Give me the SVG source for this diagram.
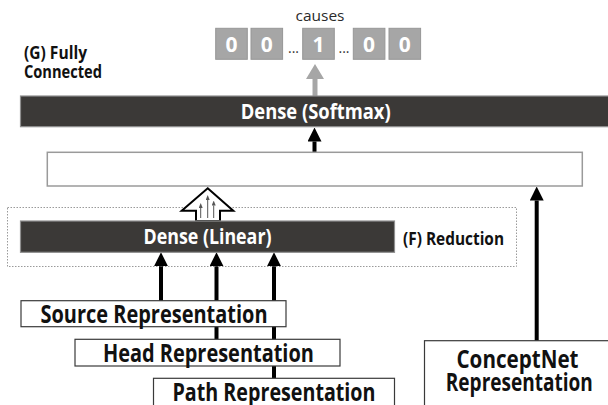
<svg xmlns="http://www.w3.org/2000/svg" width="608" height="405" viewBox="0 0 608 405">
<style>
  .bar { fill: #3b3937; stroke: #8f8f8f; stroke-width: 1.2; }
  .bartxt { font-family: "Open Sans", "Liberation Sans", sans-serif; font-weight: 700; font-size: 22px; fill: #ffffff; text-anchor: middle; }
  .lbl { font-family: "Open Sans", "Liberation Sans", sans-serif; font-weight: 700; font-size: 17.5px; fill: #111111; }
  .rep { fill: #ffffff; stroke: #3a3a3a; stroke-width: 1.2; }
  .reptxt { font-family: "Open Sans", "Liberation Sans", sans-serif; font-weight: 700; font-size: 24.5px; fill: #111111; text-anchor: middle; }
  .cell { fill: #a6a6a6; stroke: #969696; stroke-width: 1; }
  .digit { font-family: "Open Sans", "Liberation Sans", sans-serif; font-weight: 700; font-size: 21px; fill: #ffffff; text-anchor: middle; }
  .dots { font-family: "Open Sans", "Liberation Sans", sans-serif; font-size: 14px; fill: #333333; text-anchor: middle; }
  .conn { stroke: #000000; stroke-width: 4; fill: none; marker-end: url(#ah); }
  .thin { stroke: #555555; stroke-width: 1; fill: none; marker-end: url(#ahs); }
</style>
<defs>
  <marker id="ah" viewBox="0 0 14 14" markerWidth="14" markerHeight="14" refX="0" refY="7" orient="auto" markerUnits="userSpaceOnUse">
    <path d="M0,0 L14,7 L0,14 z" fill="#000000"/>
  </marker>
  <marker id="ahg" viewBox="0 0 15 18" markerWidth="15" markerHeight="18" refX="0" refY="9" orient="auto" markerUnits="userSpaceOnUse">
    <path d="M0,0 L15,9 L0,18 z" fill="#a6a6a6"/>
  </marker>
  <marker id="ahs" viewBox="0 0 5 4" markerWidth="5" markerHeight="4" refX="0" refY="2" orient="auto" markerUnits="userSpaceOnUse">
    <path d="M0,0 L5,2 L0,4 z" fill="#555555"/>
  </marker>
</defs>
<rect width="608" height="405" fill="#ffffff"/>

<g id="output">
  <text x="320" y="20.5" font-family="'Open Sans', 'Liberation Sans', sans-serif" font-weight="400" font-size="15" fill="#2a2a2a" text-anchor="middle" textLength="49" lengthAdjust="spacingAndGlyphs">causes</text>
  <rect class="cell" x="215.7" y="28.3" width="31.6" height="31"/>
  <rect class="cell" x="251" y="28.3" width="31.6" height="31"/>
  <rect class="cell" x="302.7" y="28.3" width="31.6" height="31"/>
  <rect class="cell" x="353.3" y="28.3" width="31.6" height="31"/>
  <rect class="cell" x="389" y="28.3" width="31.6" height="31"/>
  <text class="digit" x="231.5" y="51.5">0</text>
  <text class="digit" x="266.8" y="51.5">0</text>
  <text class="dots" x="293.5" y="53">...</text>
  <text class="digit" x="318.5" y="51.5">1</text>
  <text class="dots" x="344" y="53">...</text>
  <text class="digit" x="369.1" y="51.5">0</text>
  <text class="digit" x="404.8" y="51.5">0</text>
</g>

<g id="label-g">
  <text class="lbl" x="24" y="59" textLength="63" lengthAdjust="spacingAndGlyphs">(G) Fully</text>
  <text class="lbl" x="24" y="78" textLength="78" lengthAdjust="spacingAndGlyphs">Connected</text>
</g>

<g id="reduction-frame">
  <rect x="7.5" y="207.5" width="509" height="59" fill="none" stroke="#9a9a9a" stroke-width="1" stroke-dasharray="1.5 1.5"/>
</g>

<g id="connectors">
  <line x1="315" y1="96" x2="315" y2="79" stroke="#a6a6a6" stroke-width="5" marker-end="url(#ahg)"/>
  <line class="conn" x1="314.5" y1="152" x2="314.5" y2="141.5"/>
  <line class="conn" x1="536.7" y1="341" x2="536.7" y2="200.5"/>
  <line class="conn" x1="161" y1="301" x2="161" y2="266.3"/>
  <line class="conn" x1="216.5" y1="339.5" x2="216.5" y2="266.3"/>
  <line class="conn" x1="274" y1="378.5" x2="274" y2="266.3"/>
  <polygon points="207.7,188.3 233.3,210.7 220,210.7 220,221 196,221 196,210.7 181.7,210.7" fill="#ffffff" stroke="#000000" stroke-width="2" stroke-linejoin="miter"/>
  <line class="thin" x1="200.7" y1="218" x2="200.7" y2="208"/>
  <line class="thin" x1="207.7" y1="218" x2="207.7" y2="200"/>
  <line class="thin" x1="213.7" y1="218" x2="213.7" y2="205.5"/>
</g>

<g id="dense-softmax">
  <rect class="bar" x="20.5" y="96" width="600" height="30.7"/>
  <text class="bartxt" x="315.7" y="118.5" textLength="150" lengthAdjust="spacingAndGlyphs">Dense (Softmax)</text>
</g>

<g id="concat">
  <rect x="47.3" y="152.3" width="535" height="33.7" fill="#ffffff" stroke="#9a9a9a" stroke-width="1.5"/>
</g>

<g id="dense-linear">
  <rect class="bar" x="20.5" y="221" width="374" height="31.3"/>
  <text class="bartxt" x="207.5" y="244" textLength="128" lengthAdjust="spacingAndGlyphs">Dense (Linear)</text>
</g>

<g id="label-f">
  <text class="lbl" x="403" y="244.5" textLength="101" lengthAdjust="spacingAndGlyphs">(F) Reduction</text>
</g>

<g id="source">
  <rect class="rep" x="21" y="300.7" width="265" height="26"/>
  <text class="reptxt" x="154" y="322.5" textLength="227" lengthAdjust="spacingAndGlyphs">Source Representation</text>
</g>

<g id="head">
  <rect class="rep" x="75" y="339.3" width="265" height="26.7"/>
  <text class="reptxt" x="208.4" y="362" textLength="211" lengthAdjust="spacingAndGlyphs">Head Representation</text>
</g>

<g id="path">
  <rect class="rep" x="153.5" y="378.3" width="241" height="40"/>
  <text class="reptxt" x="274" y="400.5" textLength="203" lengthAdjust="spacingAndGlyphs">Path Representation</text>
</g>

<g id="conceptnet">
  <rect class="rep" x="424.5" y="340.7" width="200" height="80"/>
  <text class="reptxt" x="517.5" y="367.5" textLength="122" lengthAdjust="spacingAndGlyphs">ConceptNet</text>
  <text class="reptxt" x="519.3" y="391" textLength="147" lengthAdjust="spacingAndGlyphs">Representation</text>
</g>
</svg>
